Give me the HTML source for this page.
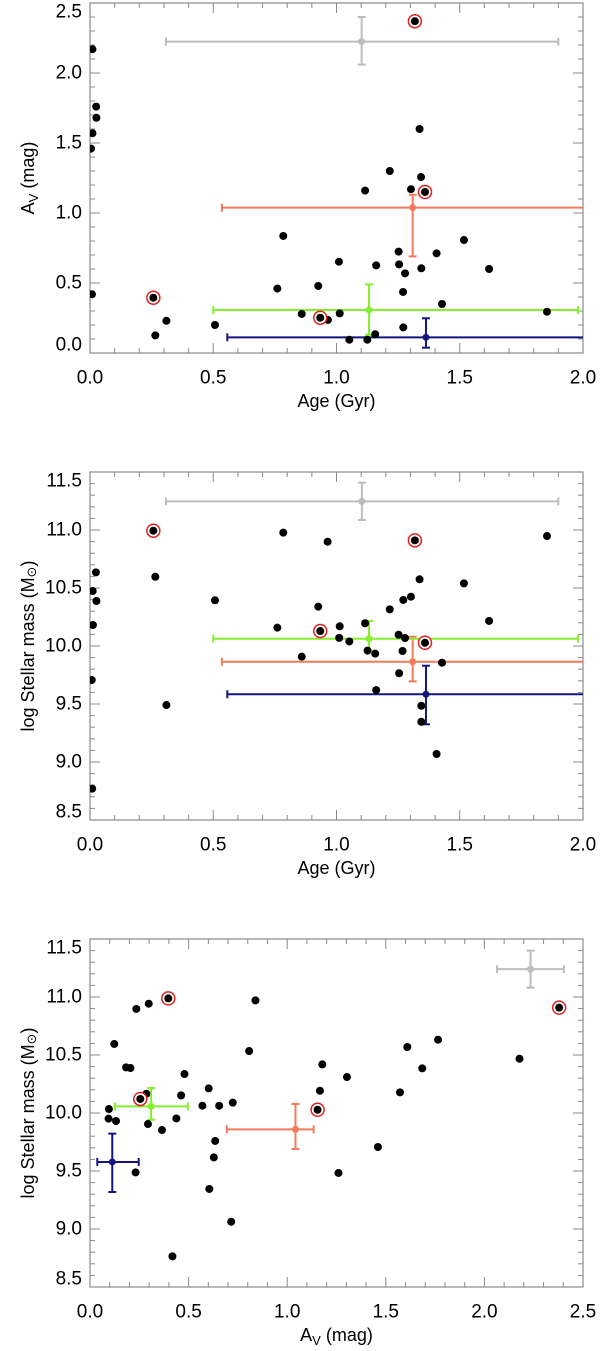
<!DOCTYPE html>
<html><head><meta charset="utf-8"><style>
html,body{margin:0;padding:0;background:#fff;}
svg{display:block;font-family:"Liberation Sans","DejaVu Sans",sans-serif;}
</style></head><body>
<svg id="fig" width="600" height="1351" viewBox="0 0 600 1351" xmlns="http://www.w3.org/2000/svg"></svg>
<script>
// ---------- Panel 1: Age vs Av ----------
const p1Age = [0.01,0.025,0.026,0.01,0.004,0.008,0.265,0.31,0.507,0.784,0.76,1.337,1.216,1.343,1.116,1.302,1.517,1.252,1.406,1.010,1.161,1.254,1.344,1.619,1.278,0.926,1.270,1.428,0.859,0.965,1.013,1.854,1.271,1.157,1.052,1.125];
const p1Av  = [2.17,1.76,1.68,1.57,1.46,0.42,0.126,0.23,0.20,0.836,0.46,1.60,1.30,1.257,1.16,1.17,0.807,0.724,0.712,0.652,0.626,0.633,0.605,0.60,0.569,0.479,0.436,0.35,0.279,0.236,0.283,0.295,0.183,0.134,0.095,0.095];
const p1CircAge = [0.257,1.318,1.359,0.934];
const p1CircAv  = [0.395,2.37,1.15,0.252];
const p1ErrNames = ['gray','red','green','blue'];
const p1ErrX  = [1.102,1.309,1.132,1.363];
const p1ErrY  = [2.224,1.038,0.307,0.112];
const p1ErrXlo = [0.308,0.535,0.50,0.557];
const p1ErrXhi = [1.90,2.2,1.98,2.2];
const p1ErrYlo = [2.06,0.69,0.13,0.038];
const p1ErrYhi = [2.40,1.13,0.49,0.248];
const p1XTicks = ['0.0','0.5','1.0','1.5','2.0'];
const p1YTicks = ['0.0','0.5','1.0','1.5','2.0','2.5'];

// ---------- Panel 2: Age vs log mass ----------
const p2Age  = [0.784,0.024,0.265,0.011,0.026,0.507,0.012,0.76,0.007,0.31,0.009,0.964,1.854,1.337,1.517,1.302,1.271,0.926,1.216,1.619,1.116,1.013,1.011,1.052,1.252,1.278,1.126,1.157,1.268,1.428,1.254,1.161,0.859,1.344,1.344,1.406];
const p2Mass = [10.977,10.635,10.597,10.474,10.388,10.394,10.181,10.158,9.707,9.491,8.77,10.899,10.948,10.575,10.54,10.425,10.397,10.339,10.316,10.216,10.196,10.17,10.07,10.039,10.097,10.069,9.96,9.934,9.957,9.856,9.765,9.62,9.908,9.485,9.347,9.069];
const p2CircAge  = [0.257,1.318,0.934,1.359];
const p2CircMass = [10.994,10.911,10.129,10.028];
const p2ErrX  = [1.103,1.309,1.132,1.363];
const p2ErrY  = [11.247,9.864,10.063,9.584];
const p2ErrXlo = [0.308,0.535,0.50,0.557];
const p2ErrXhi = [1.90,2.2,1.98,2.2];
const p2ErrYlo = [11.086,9.695,9.96,9.325];
const p2ErrYhi = [11.408,10.08,10.216,9.83];
const p2XTicks = ['0.0','0.5','1.0','1.5','2.0'];
const p2YTicks = ['8.5','9.0','9.5','10.0','10.5','11.0','11.5'];

// ---------- Panel 3: Av vs log mass ----------
const p3Av   = [0.839,0.298,0.235,0.123,0.807,0.183,0.205,0.479,0.602,0.462,0.286,0.096,0.57,0.655,0.724,0.094,0.132,0.438,0.294,0.365,0.635,0.628,0.231,0.605,0.716,0.418,2.178,1.765,1.609,1.685,1.178,1.303,1.166,1.572,1.46,1.26];
const p3Mass = [10.971,10.942,10.897,10.595,10.534,10.393,10.388,10.336,10.212,10.152,10.166,10.034,10.063,10.063,10.089,9.951,9.931,9.953,9.905,9.853,9.759,9.617,9.488,9.345,9.063,8.764,10.468,10.632,10.569,10.385,10.419,10.31,10.192,10.178,9.707,9.483];
const p3CircAv   = [0.397,0.255,2.379,1.154];
const p3CircMass = [10.988,10.121,10.908,10.028];
const p3ErrX  = [2.234,1.042,0.31,0.113];
const p3ErrY  = [11.24,9.859,10.057,9.578];
const p3ErrXlo = [2.064,0.694,0.127,0.037];
const p3ErrXhi = [2.403,1.134,0.496,0.247];
const p3ErrYlo = [11.08,9.69,9.942,9.319];
const p3ErrYhi = [11.40,10.078,10.215,9.822];
const p3XTicks = ['0.0','0.5','1.0','1.5','2.0','2.5'];
const p3YTicks = ['8.5','9.0','9.5','10.0','10.5','11.0','11.5'];

const ERRCOL = {gray:'#bdbdbd', red:'#f47a5c', green:'#84f02c', blue:'#14157f'};
const NS = 'http://www.w3.org/2000/svg';
const svg = document.getElementById('fig');
function mk(tag, attrs, parent){
  const e = document.createElementNS(NS, tag);
  for (const k in attrs) e.setAttribute(k, attrs[k]);
  (parent||svg).appendChild(e);
  return e;
}

function panel(cfg){
  const g = mk('g', {});
  
  
  const L=90, R=583, T=cfg.top, B=cfg.bottom;
  const sx = v => L + (v - cfg.xmin) / (cfg.xmax - cfg.xmin) * (R - L);
  const sy = v => B - (v - cfg.ymin) / (cfg.ymax - cfg.ymin) * (B - T);
  // clip
  const cid = 'clip-' + cfg.name;
  const cp = mk('clipPath', {id: cid}, g);
  mk('rect', {x:L, y:T, width:R-L, height:B-T}, cp);
  // frame
  const fr = mk('rect', {x:L, y:T, width:R-L, height:B-T, fill:'none', stroke:'#8a8a8a', 'stroke-width':1.2}, g);
  
  
  // x ticks
  const xt = mk('g', {stroke:'#8a8a8a', 'stroke-width':1}, g);
  
  
  const nMinX = Math.round((cfg.xmax - cfg.xmin) / 0.1);
  for (let i=0;i<=nMinX;i++){
    const v = cfg.xmin + i*0.1, x = sx(v);
    const len = (i % 5 === 0) ? 10 : 5;
    mk('line', {x1:x, x2:x, y1:B, y2:B-len}, xt);
    mk('line', {x1:x, x2:x, y1:T, y2:T+len}, xt);
  }
  const nMinY = Math.round((cfg.ymax - cfg.ymin) / 0.1);
  for (let i=0;i<=nMinY;i++){
    const v = cfg.ymin + i*0.1, y = sy(v);
    const len = (i % 5 === 0) ? 10 : 5;
    mk('line', {x1:L, x2:L+len, y1:y, y2:y}, xt);
    mk('line', {x1:R, x2:R-len, y1:y, y2:y}, xt);
  }
  // tick labels
  cfg.xTicks.forEach(t => {
    const tx = mk('text', {x:sx(parseFloat(t)), y:B+25, 'font-size':19, 'text-anchor':'middle', 'dominant-baseline':'central', fill:'#000'}, g);
    
    
    tx.textContent = t;
  });
  cfg.yTicks.forEach(t => {
    let y = sy(parseFloat(t));
    y = Math.max(T + 9, Math.min(B - 8, y));
    const tx = mk('text', {x:82, y:y, 'font-size':19, 'text-anchor':'end', 'dominant-baseline':'central', fill:'#000'}, g);
    
    
    tx.textContent = t;
  });
  // axis titles
  const xtt = mk('text', {x:(L+R)/2, y:B+48, 'font-size':18, 'text-anchor':'middle', 'dominant-baseline':'central', fill:'#000'}, g);
  
  
  xtt.innerHTML = cfg.xTitle;
  const ytt = mk('text', {x:0, y:0, 'font-size':18, 'text-anchor':'middle', 'dominant-baseline':'central', fill:'#000', transform:'translate(28,'+((T+B)/2)+') rotate(-90)'}, g);
  
  
  ytt.innerHTML = cfg.yTitle;
  // data
  const dg = mk('g', {'clip-path':'url(#'+cid+')'}, g);
  
  
  // error bars
  cfg.errX.forEach((_, i) => {
    const col = ERRCOL[p1ErrNames[i]];
    const eg = mk('g', {stroke:col, 'stroke-width':2, fill:col}, dg);
    
    
    const cx = sx(cfg.errX[i]), cy = sy(cfg.errY[i]);
    const x1 = sx(cfg.errXlo[i]), x2 = sx(cfg.errXhi[i]);
    const y1 = sy(cfg.errYlo[i]), y2 = sy(cfg.errYhi[i]);
    mk('line', {x1:x1, x2:x2, y1:cy, y2:cy}, eg);
    mk('line', {x1:cx, x2:cx, y1:y1, y2:y2}, eg);
    mk('line', {x1:x1, x2:x1, y1:cy-4, y2:cy+4}, eg);
    mk('line', {x1:x2, x2:x2, y1:cy-4, y2:cy+4}, eg);
    mk('line', {x1:cx-4, x2:cx+4, y1:y1, y2:y1}, eg);
    mk('line', {x1:cx-4, x2:cx+4, y1:y2, y2:y2}, eg);
    mk('circle', {cx:cx, cy:cy, r:3.5, stroke:'none'}, eg);
  });
  // points
  cfg.px.forEach((_, i) => {
    const c = mk('circle', {cx:sx(cfg.px[i]), cy:sy(cfg.py[i]), r:4, fill:'#000'}, dg);
    
    
  });
  cfg.cx.forEach((_, i) => {
    const x = sx(cfg.cx[i]), y = sy(cfg.cy[i]);
    const r = mk('circle', {cx:x, cy:y, r:6.5, fill:'#fff', stroke:'#e02020', 'stroke-width':1.5}, dg);
    
    
    const c = mk('circle', {cx:x, cy:y, r:4, fill:'#000'}, dg);
    
    
  });
}

const AVT = 'A<tspan font-size="13" dy="5">V</tspan><tspan dy="-5"> (mag)</tspan>';
const MT = 'log Stellar mass (M<tspan font-size="13" dy="4" font-family="DejaVu Sans">⊙</tspan><tspan dy="-4">)</tspan>';

panel({name:'panel-age-av', top:3, bottom:353, xmin:0, xmax:2, ymin:0, ymax:2.5,
  xTicks:p1XTicks, yTicks:p1YTicks, xTitle:'Age (Gyr)', yTitle:AVT,
  px:p1Age, py:p1Av, cx:p1CircAge, cy:p1CircAv,
  errX:p1ErrX, errY:p1ErrY, errXlo:p1ErrXlo, errXhi:p1ErrXhi, errYlo:p1ErrYlo, errYhi:p1ErrYhi});
panel({name:'panel-age-mass', top:472, bottom:820, xmin:0, xmax:2, ymin:8.5, ymax:11.5,
  xTicks:p2XTicks, yTicks:p2YTicks, xTitle:'Age (Gyr)', yTitle:MT,
  px:p2Age, py:p2Mass, cx:p2CircAge, cy:p2CircMass,
  errX:p2ErrX, errY:p2ErrY, errXlo:p2ErrXlo, errXhi:p2ErrXhi, errYlo:p2ErrYlo, errYhi:p2ErrYhi});
panel({name:'panel-av-mass', top:939, bottom:1287, xmin:0, xmax:2.5, ymin:8.5, ymax:11.5,
  xTicks:p3XTicks, yTicks:p3YTicks, xTitle:AVT, yTitle:MT,
  px:p3Av, py:p3Mass, cx:p3CircAv, cy:p3CircMass,
  errX:p3ErrX, errY:p3ErrY, errXlo:p3ErrXlo, errXhi:p3ErrXhi, errYlo:p3ErrYlo, errYhi:p3ErrYhi});
</script>
</body></html>
